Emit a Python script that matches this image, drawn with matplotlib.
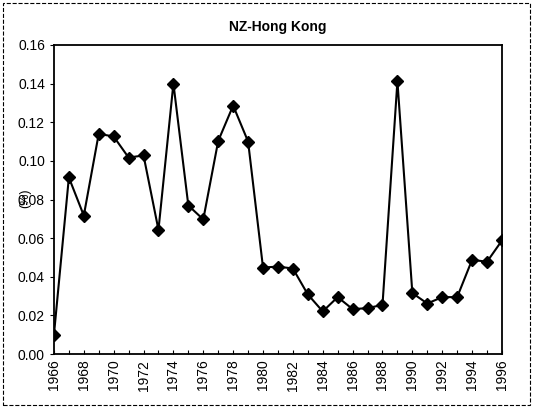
import matplotlib
matplotlib.use('Agg')
import matplotlib.pyplot as plt
from matplotlib.patches import Rectangle

years = list(range(1966, 1997))
values = [0.0100, 0.0914, 0.0717, 0.1140, 0.1126, 0.1017, 0.1028, 0.0643,
          0.1400, 0.0769, 0.0697, 0.1103, 0.1286, 0.1100, 0.0448, 0.0453,
          0.0443, 0.0309, 0.0221, 0.0295, 0.0233, 0.0238, 0.0255, 0.1412,
          0.0316, 0.0262, 0.0295, 0.0295, 0.0488, 0.0478, 0.0588]
yticks = [0.00, 0.02, 0.04, 0.06, 0.08, 0.10, 0.12, 0.14, 0.16]

plt.rcParams['font.family'] = ['Liberation Sans', 'DejaVu Sans']

fig = plt.figure(figsize=(5.34, 4.08), dpi=100)
ax = fig.add_axes([0.101, 0.132, 0.839, 0.758])

x = list(range(len(years)))
ax.plot(x, values, color='black', lw=1.5, marker='D', markersize=6)

ax.set_xlim(0, len(years) - 1)
ax.set_ylim(0, 0.16)
ax.set_yticks(yticks)
ax.set_yticklabels(['%.2f' % v for v in yticks], fontsize=10)
ax.set_xticks(x)
ax.set_xticklabels([str(y) if (y - 1966) % 2 == 0 else '' for y in years],
                   rotation=90, fontsize=10)
ax.tick_params(axis='x', direction='in', length=3, pad=4)
ax.tick_params(axis='y', direction='out', length=3)
for s in ax.spines.values():
    s.set_linewidth(1.3)

ax.set_title('NZ-Hong Kong', fontsize=10, fontweight='bold', pad=10)
fig.text(0.047, 0.515, '(%)', rotation=90, fontsize=9, ha='center', va='center')

# dashed outer frame
fig.patches.append(Rectangle((0.006, 0.008), 0.986, 0.985, transform=fig.transFigure,
                             fill=False, ls='--', lw=0.8, color='black'))

fig.savefig('out.png', dpi=100)
